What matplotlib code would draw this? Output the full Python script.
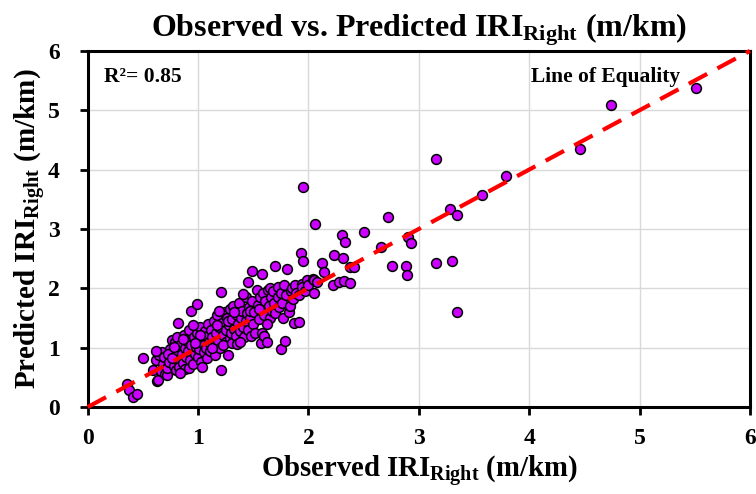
import matplotlib
matplotlib.use("Agg")
import matplotlib.pyplot as plt
import numpy as np

plt.rcParams['font.family'] = ['Liberation Serif', 'DejaVu Serif']
plt.rcParams['font.weight'] = 'bold'
plt.rcParams['mathtext.fontset'] = 'custom'
plt.rcParams['mathtext.rm'] = 'Liberation Serif:bold'
plt.rcParams['mathtext.bf'] = 'Liberation Serif:bold'
plt.rcParams['mathtext.it'] = 'Liberation Serif:bold'

# -------- data --------

observed = [
    0.36, 0.37, 0.41, 0.45,
    0.50, 0.59, 0.63, 0.64, 0.62, 0.65, 0.67, 0.62, 0.68, 0.66, 0.70, 0.72, 0.69,
    0.72, 0.74, 0.75, 0.76, 0.77, 0.78, 0.79, 0.80, 0.80, 0.81, 0.82, 0.82, 0.83,
    0.84, 0.85, 0.86, 0.87, 0.88, 0.88, 0.89, 0.90, 0.73, 0.76, 0.78, 0.84, 0.86,
    0.91, 0.92, 0.92, 0.93, 0.94, 0.94, 0.95, 0.96, 0.97, 0.98, 0.99, 0.99, 1.00,
    1.00, 1.01, 1.02, 1.03, 1.04, 1.05, 1.05, 1.06, 1.07, 1.08, 1.08, 1.09, 1.10,
    0.95, 1.02, 1.04, 0.97,
    1.11, 1.12, 1.13, 1.14, 1.15, 1.15, 1.16, 1.17, 1.18, 1.19, 1.20, 1.21, 1.21,
    1.22, 1.23, 1.24, 1.25, 1.25, 1.26, 1.27, 1.28, 1.29, 1.29, 1.30, 1.13, 1.17,
    1.23, 1.19, 1.27,
    1.31, 1.31, 1.32, 1.33, 1.34, 1.35, 1.35, 1.36, 1.37, 1.38, 1.39, 1.40, 1.41,
    1.42, 1.43, 1.43, 1.44, 1.45, 1.45, 1.46, 1.47, 1.48, 1.49, 1.49, 1.50, 1.33,
    1.38, 1.41, 1.47,
    1.51, 1.52, 1.53, 1.54, 1.55, 1.56, 1.57, 1.58, 1.58, 1.58, 1.59, 1.60, 1.60,
    1.61, 1.62, 1.63, 1.64, 1.65, 1.65, 1.66, 1.67, 1.68, 1.69, 1.70, 1.70, 1.55,
    1.62,
    1.72, 1.72, 1.73, 1.75, 1.75, 1.76, 1.77, 1.78, 1.79, 1.80, 1.81, 1.82, 1.83,
    1.84, 1.85, 1.86, 1.87, 1.88, 1.89,
    1.91, 1.91, 1.93, 1.94, 1.94, 1.95, 1.95, 1.97, 1.99, 2.00, 2.04, 2.05, 2.05,
    2.06, 2.08,
    2.12, 2.14, 2.22, 2.23, 2.28, 2.30, 2.31, 2.32, 2.33, 2.38, 2.38, 2.41, 2.50,
    2.66, 2.72, 2.76, 2.88, 2.89, 2.90, 2.93, 3.16, 3.16, 3.28, 3.30, 3.35, 3.35,
    3.57, 3.79, 4.46, 4.74, 5.51,
]

predicted = [
    0.39, 0.29, 0.17, 0.22,
    0.83, 0.62, 0.44, 0.46, 0.80, 0.88, 0.93, 0.94, 0.72, 0.60, 0.55, 0.54, 0.85,
    0.65, 0.76, 0.98, 1.13, 0.88, 0.70, 1.10, 0.96, 0.62, 1.18, 0.80, 1.42, 0.68,
    1.05, 0.90, 0.75, 1.22, 1.00, 0.64, 0.85, 1.12, 0.90, 0.82, 1.02, 0.58, 1.14,
    0.95, 0.66, 1.30, 0.80, 1.62, 1.05, 0.72, 1.18, 0.90, 1.02, 1.74, 1.25, 0.85,
    1.10, 0.98, 1.35, 0.76, 1.15, 1.05, 0.92, 1.28, 1.00, 1.20, 0.82, 1.40, 1.10,
    1.38, 1.22, 0.68, 1.08,
    0.95, 1.30, 1.18, 1.45, 1.05, 0.88, 1.25, 1.55, 1.12, 1.35, 1.00, 1.94, 0.62,
    1.42, 1.22, 1.60, 1.10, 1.30, 1.50, 0.88, 1.38, 1.16, 1.65, 1.25, 1.00, 1.38,
    1.05, 1.62, 1.45,
    1.08, 1.48, 1.70, 1.32, 1.20, 1.06, 1.55, 1.40, 1.75, 1.28, 1.50, 1.62, 1.35,
    1.18, 1.85, 1.45, 1.58, 2.11, 1.30, 1.68, 1.50, 1.20, 2.29, 1.78, 1.40, 1.60,
    1.10, 1.90, 1.62,
    1.60, 1.25, 1.97, 1.72, 1.48, 1.85, 1.08, 1.25, 2.24, 1.65, 1.92, 1.20, 1.55,
    1.78, 1.10, 1.98, 1.70, 2.00, 1.50, 1.85, 1.62, 1.95, 1.75, 2.38, 1.58, 1.65,
    1.40,
    2.02, 1.85, 1.68, 0.98, 1.92, 1.75, 1.50, 2.05, 1.11, 1.88, 2.33, 1.60, 1.70,
    1.95, 2.00, 1.82, 1.42, 2.05, 1.92,
    1.89, 1.43, 2.60, 2.07, 2.02, 2.46, 3.71, 1.95, 2.14, 2.05, 2.16, 2.14, 1.92,
    3.09, 2.10,
    2.43, 2.28, 2.06, 2.56, 2.11, 2.90, 2.51, 2.12, 2.78, 2.09, 2.36, 2.36, 2.95,
    2.70, 3.21, 2.38, 2.38, 2.23, 2.87, 2.77, 4.18, 2.43, 3.34, 2.46, 3.24, 1.60,
    3.58, 3.90, 4.35, 5.08, 5.37,
]

equality = [0, 6]
ticks = [0, 1, 2, 3, 4, 5, 6]
r2_text = "R²= 0.85"

# -------- plot --------

fig = plt.figure(figsize=(7.56, 4.94), dpi=100)
ax = fig.add_axes([0.116, 0.176, 0.876, 0.721])

ax.grid(True, color="#d9d9d9", linewidth=1.0, zorder=0)
ax.set_axisbelow(True)

ax.scatter(observed, predicted, s=50, c="#cc00ff", edgecolors="black",
           linewidths=1.1, zorder=3)

ax.plot(equality, equality, color="#ff0000", linewidth=3, linestyle=(0, (5, 2.8)),
        zorder=4, clip_on=False)

ax.set_xlim(0, 6)
ax.set_ylim(0, 6)
ax.set_xticks(ticks)
ax.set_yticks(ticks)
ax.tick_params(direction="out", length=6, width=2, labelsize=17)
ax.tick_params(axis="x", pad=9)
ax.tick_params(axis="y", pad=14)
for lab in ax.get_xticklabels() + ax.get_yticklabels():
    lab.set_fontweight("bold")

for sp in ax.spines.values():
    sp.set_linewidth(2.2)
    sp.set_color("black")

ax.set_title(r"Observed vs. Predicted IRI$_{\rm Right}$ (m/km)", fontsize=23,
             fontweight="bold", pad=10)
ax.set_xlabel(r"Observed IRI$_{\rm Right}$ (m/km)", fontsize=20.7,
              fontweight="bold", labelpad=4)
ax.set_ylabel(r"Predicted IRI$_{\rm Right}$ (m/km)", fontsize=21,
              fontweight="bold", labelpad=0)

ax.text(0.025, 0.955, r2_text, transform=ax.transAxes, fontsize=15.5,
        fontweight="bold", va="top", ha="left")
ax.text(0.895, 0.955, "Line of Equality", transform=ax.transAxes, fontsize=15.5,
        fontweight="bold", va="top", ha="right")

fig.savefig("out.png", dpi=100)
